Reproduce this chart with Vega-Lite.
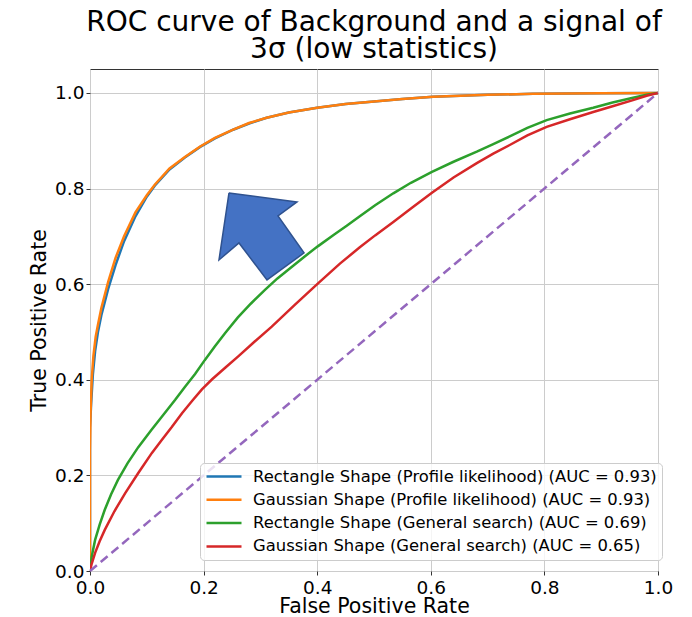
{
  "$schema": "https://vega.github.io/schema/vega-lite/v6.json",
  "width": 568,
  "height": 502,
  "autosize": {"type": "none"},
  "padding": {"left": 90, "top": 69, "right": 34, "bottom": 46},
  "background": "white",
  "title": {
    "text": ["ROC curve of Background and a signal of", "3σ (low statistics)"],
    "fontSize": 28,
    "lineHeight": 27,
    "font": "DejaVu Sans",
    "fontWeight": "normal",
    "color": "#000000",
    "anchor": "middle",
    "offset": 5
  },
  "config": {
    "font": "DejaVu Sans",
    "view": {"stroke": "#333333", "strokeWidth": 1},
    "axis": {
      "labelFont": "DejaVu Sans",
      "titleFont": "DejaVu Sans",
      "labelFontSize": 18.5,
      "titleFontSize": 20.5,
      "titleFontWeight": "normal",
      "labelColor": "#000000",
      "titleColor": "#000000",
      "gridColor": "#cccccc",
      "gridWidth": 1,
      "tickColor": "#333333",
      "tickSize": 4,
      "labelFlush": false,
      "domain": false
    },
    "legend": {
      "labelFont": "DejaVu Sans"
    }
  },
  "layer": [
    {
      "data": {
        "values": [
          {"s": "Rectangle Shape (Profile likelihood) (AUC = 0.93)", "fpr": 0, "tpr": 0},
          {"s": "Rectangle Shape (Profile likelihood) (AUC = 0.93)", "fpr": 0, "tpr": 0.3},
          {"s": "Rectangle Shape (Profile likelihood) (AUC = 0.93)", "fpr": 0.002, "tpr": 0.35},
          {"s": "Rectangle Shape (Profile likelihood) (AUC = 0.93)", "fpr": 0.005, "tpr": 0.41},
          {"s": "Rectangle Shape (Profile likelihood) (AUC = 0.93)", "fpr": 0.009, "tpr": 0.46},
          {"s": "Rectangle Shape (Profile likelihood) (AUC = 0.93)", "fpr": 0.014, "tpr": 0.5},
          {"s": "Rectangle Shape (Profile likelihood) (AUC = 0.93)", "fpr": 0.02, "tpr": 0.535},
          {"s": "Rectangle Shape (Profile likelihood) (AUC = 0.93)", "fpr": 0.032, "tpr": 0.59},
          {"s": "Rectangle Shape (Profile likelihood) (AUC = 0.93)", "fpr": 0.045, "tpr": 0.64},
          {"s": "Rectangle Shape (Profile likelihood) (AUC = 0.93)", "fpr": 0.06, "tpr": 0.69},
          {"s": "Rectangle Shape (Profile likelihood) (AUC = 0.93)", "fpr": 0.08, "tpr": 0.742},
          {"s": "Rectangle Shape (Profile likelihood) (AUC = 0.93)", "fpr": 0.1, "tpr": 0.783},
          {"s": "Rectangle Shape (Profile likelihood) (AUC = 0.93)", "fpr": 0.114, "tpr": 0.806},
          {"s": "Rectangle Shape (Profile likelihood) (AUC = 0.93)", "fpr": 0.14, "tpr": 0.84},
          {"s": "Rectangle Shape (Profile likelihood) (AUC = 0.93)", "fpr": 0.167, "tpr": 0.865},
          {"s": "Rectangle Shape (Profile likelihood) (AUC = 0.93)", "fpr": 0.194, "tpr": 0.887},
          {"s": "Rectangle Shape (Profile likelihood) (AUC = 0.93)", "fpr": 0.22, "tpr": 0.905},
          {"s": "Rectangle Shape (Profile likelihood) (AUC = 0.93)", "fpr": 0.252, "tpr": 0.923},
          {"s": "Rectangle Shape (Profile likelihood) (AUC = 0.93)", "fpr": 0.28, "tpr": 0.936},
          {"s": "Rectangle Shape (Profile likelihood) (AUC = 0.93)", "fpr": 0.311, "tpr": 0.948},
          {"s": "Rectangle Shape (Profile likelihood) (AUC = 0.93)", "fpr": 0.35, "tpr": 0.959},
          {"s": "Rectangle Shape (Profile likelihood) (AUC = 0.93)", "fpr": 0.4, "tpr": 0.969},
          {"s": "Rectangle Shape (Profile likelihood) (AUC = 0.93)", "fpr": 0.45, "tpr": 0.977},
          {"s": "Rectangle Shape (Profile likelihood) (AUC = 0.93)", "fpr": 0.5, "tpr": 0.982},
          {"s": "Rectangle Shape (Profile likelihood) (AUC = 0.93)", "fpr": 0.55, "tpr": 0.987},
          {"s": "Rectangle Shape (Profile likelihood) (AUC = 0.93)", "fpr": 0.604, "tpr": 0.992},
          {"s": "Rectangle Shape (Profile likelihood) (AUC = 0.93)", "fpr": 0.7, "tpr": 0.996},
          {"s": "Rectangle Shape (Profile likelihood) (AUC = 0.93)", "fpr": 0.78, "tpr": 0.998},
          {"s": "Rectangle Shape (Profile likelihood) (AUC = 0.93)", "fpr": 0.9, "tpr": 0.9995},
          {"s": "Rectangle Shape (Profile likelihood) (AUC = 0.93)", "fpr": 1, "tpr": 1},

          {"s": "Gaussian Shape (Profile likelihood) (AUC = 0.93)", "fpr": 0, "tpr": 0},
          {"s": "Gaussian Shape (Profile likelihood) (AUC = 0.93)", "fpr": 0, "tpr": 0.25},
          {"s": "Gaussian Shape (Profile likelihood) (AUC = 0.93)", "fpr": 0.001, "tpr": 0.33},
          {"s": "Gaussian Shape (Profile likelihood) (AUC = 0.93)", "fpr": 0.003, "tpr": 0.4},
          {"s": "Gaussian Shape (Profile likelihood) (AUC = 0.93)", "fpr": 0.006, "tpr": 0.45},
          {"s": "Gaussian Shape (Profile likelihood) (AUC = 0.93)", "fpr": 0.01, "tpr": 0.49},
          {"s": "Gaussian Shape (Profile likelihood) (AUC = 0.93)", "fpr": 0.014, "tpr": 0.515},
          {"s": "Gaussian Shape (Profile likelihood) (AUC = 0.93)", "fpr": 0.02, "tpr": 0.55},
          {"s": "Gaussian Shape (Profile likelihood) (AUC = 0.93)", "fpr": 0.032, "tpr": 0.605},
          {"s": "Gaussian Shape (Profile likelihood) (AUC = 0.93)", "fpr": 0.045, "tpr": 0.655},
          {"s": "Gaussian Shape (Profile likelihood) (AUC = 0.93)", "fpr": 0.06, "tpr": 0.7},
          {"s": "Gaussian Shape (Profile likelihood) (AUC = 0.93)", "fpr": 0.08, "tpr": 0.75},
          {"s": "Gaussian Shape (Profile likelihood) (AUC = 0.93)", "fpr": 0.1, "tpr": 0.786},
          {"s": "Gaussian Shape (Profile likelihood) (AUC = 0.93)", "fpr": 0.114, "tpr": 0.808},
          {"s": "Gaussian Shape (Profile likelihood) (AUC = 0.93)", "fpr": 0.14, "tpr": 0.842},
          {"s": "Gaussian Shape (Profile likelihood) (AUC = 0.93)", "fpr": 0.167, "tpr": 0.866},
          {"s": "Gaussian Shape (Profile likelihood) (AUC = 0.93)", "fpr": 0.194, "tpr": 0.888},
          {"s": "Gaussian Shape (Profile likelihood) (AUC = 0.93)", "fpr": 0.22, "tpr": 0.906},
          {"s": "Gaussian Shape (Profile likelihood) (AUC = 0.93)", "fpr": 0.252, "tpr": 0.923},
          {"s": "Gaussian Shape (Profile likelihood) (AUC = 0.93)", "fpr": 0.28, "tpr": 0.937},
          {"s": "Gaussian Shape (Profile likelihood) (AUC = 0.93)", "fpr": 0.311, "tpr": 0.948},
          {"s": "Gaussian Shape (Profile likelihood) (AUC = 0.93)", "fpr": 0.35, "tpr": 0.959},
          {"s": "Gaussian Shape (Profile likelihood) (AUC = 0.93)", "fpr": 0.4, "tpr": 0.969},
          {"s": "Gaussian Shape (Profile likelihood) (AUC = 0.93)", "fpr": 0.45, "tpr": 0.977},
          {"s": "Gaussian Shape (Profile likelihood) (AUC = 0.93)", "fpr": 0.5, "tpr": 0.982},
          {"s": "Gaussian Shape (Profile likelihood) (AUC = 0.93)", "fpr": 0.55, "tpr": 0.987},
          {"s": "Gaussian Shape (Profile likelihood) (AUC = 0.93)", "fpr": 0.604, "tpr": 0.992},
          {"s": "Gaussian Shape (Profile likelihood) (AUC = 0.93)", "fpr": 0.7, "tpr": 0.996},
          {"s": "Gaussian Shape (Profile likelihood) (AUC = 0.93)", "fpr": 0.78, "tpr": 0.998},
          {"s": "Gaussian Shape (Profile likelihood) (AUC = 0.93)", "fpr": 0.9, "tpr": 0.9995},
          {"s": "Gaussian Shape (Profile likelihood) (AUC = 0.93)", "fpr": 1, "tpr": 1},

          {"s": "Rectangle Shape (General search) (AUC = 0.69)", "fpr": 0, "tpr": 0},
          {"s": "Rectangle Shape (General search) (AUC = 0.69)", "fpr": 0.003, "tpr": 0.03},
          {"s": "Rectangle Shape (General search) (AUC = 0.69)", "fpr": 0.009, "tpr": 0.065},
          {"s": "Rectangle Shape (General search) (AUC = 0.69)", "fpr": 0.017, "tpr": 0.097},
          {"s": "Rectangle Shape (General search) (AUC = 0.69)", "fpr": 0.026, "tpr": 0.128},
          {"s": "Rectangle Shape (General search) (AUC = 0.69)", "fpr": 0.037, "tpr": 0.16},
          {"s": "Rectangle Shape (General search) (AUC = 0.69)", "fpr": 0.049, "tpr": 0.19},
          {"s": "Rectangle Shape (General search) (AUC = 0.69)", "fpr": 0.066, "tpr": 0.225},
          {"s": "Rectangle Shape (General search) (AUC = 0.69)", "fpr": 0.085, "tpr": 0.259},
          {"s": "Rectangle Shape (General search) (AUC = 0.69)", "fpr": 0.108, "tpr": 0.295},
          {"s": "Rectangle Shape (General search) (AUC = 0.69)", "fpr": 0.132, "tpr": 0.331},
          {"s": "Rectangle Shape (General search) (AUC = 0.69)", "fpr": 0.15, "tpr": 0.358},
          {"s": "Rectangle Shape (General search) (AUC = 0.69)", "fpr": 0.167, "tpr": 0.385},
          {"s": "Rectangle Shape (General search) (AUC = 0.69)", "fpr": 0.185, "tpr": 0.412},
          {"s": "Rectangle Shape (General search) (AUC = 0.69)", "fpr": 0.202, "tpr": 0.441},
          {"s": "Rectangle Shape (General search) (AUC = 0.69)", "fpr": 0.22, "tpr": 0.47},
          {"s": "Rectangle Shape (General search) (AUC = 0.69)", "fpr": 0.238, "tpr": 0.498},
          {"s": "Rectangle Shape (General search) (AUC = 0.69)", "fpr": 0.26, "tpr": 0.53},
          {"s": "Rectangle Shape (General search) (AUC = 0.69)", "fpr": 0.283, "tpr": 0.559},
          {"s": "Rectangle Shape (General search) (AUC = 0.69)", "fpr": 0.308, "tpr": 0.588},
          {"s": "Rectangle Shape (General search) (AUC = 0.69)", "fpr": 0.33, "tpr": 0.612},
          {"s": "Rectangle Shape (General search) (AUC = 0.69)", "fpr": 0.355, "tpr": 0.636},
          {"s": "Rectangle Shape (General search) (AUC = 0.69)", "fpr": 0.378, "tpr": 0.658},
          {"s": "Rectangle Shape (General search) (AUC = 0.69)", "fpr": 0.401, "tpr": 0.679},
          {"s": "Rectangle Shape (General search) (AUC = 0.69)", "fpr": 0.43, "tpr": 0.704},
          {"s": "Rectangle Shape (General search) (AUC = 0.69)", "fpr": 0.452, "tpr": 0.722},
          {"s": "Rectangle Shape (General search) (AUC = 0.69)", "fpr": 0.475, "tpr": 0.742},
          {"s": "Rectangle Shape (General search) (AUC = 0.69)", "fpr": 0.502, "tpr": 0.765},
          {"s": "Rectangle Shape (General search) (AUC = 0.69)", "fpr": 0.534, "tpr": 0.79},
          {"s": "Rectangle Shape (General search) (AUC = 0.69)", "fpr": 0.565, "tpr": 0.812},
          {"s": "Rectangle Shape (General search) (AUC = 0.69)", "fpr": 0.602, "tpr": 0.835},
          {"s": "Rectangle Shape (General search) (AUC = 0.69)", "fpr": 0.64, "tpr": 0.856},
          {"s": "Rectangle Shape (General search) (AUC = 0.69)", "fpr": 0.681, "tpr": 0.877},
          {"s": "Rectangle Shape (General search) (AUC = 0.69)", "fpr": 0.71, "tpr": 0.893},
          {"s": "Rectangle Shape (General search) (AUC = 0.69)", "fpr": 0.739, "tpr": 0.909},
          {"s": "Rectangle Shape (General search) (AUC = 0.69)", "fpr": 0.77, "tpr": 0.927},
          {"s": "Rectangle Shape (General search) (AUC = 0.69)", "fpr": 0.804, "tpr": 0.943},
          {"s": "Rectangle Shape (General search) (AUC = 0.69)", "fpr": 0.845, "tpr": 0.957},
          {"s": "Rectangle Shape (General search) (AUC = 0.69)", "fpr": 0.886, "tpr": 0.969},
          {"s": "Rectangle Shape (General search) (AUC = 0.69)", "fpr": 0.92, "tpr": 0.98},
          {"s": "Rectangle Shape (General search) (AUC = 0.69)", "fpr": 0.956, "tpr": 0.99},
          {"s": "Rectangle Shape (General search) (AUC = 0.69)", "fpr": 0.98, "tpr": 0.996},
          {"s": "Rectangle Shape (General search) (AUC = 0.69)", "fpr": 1, "tpr": 1},

          {"s": "Gaussian Shape (General search) (AUC = 0.65)", "fpr": 0, "tpr": 0},
          {"s": "Gaussian Shape (General search) (AUC = 0.65)", "fpr": 0.003, "tpr": 0.015},
          {"s": "Gaussian Shape (General search) (AUC = 0.65)", "fpr": 0.009, "tpr": 0.038},
          {"s": "Gaussian Shape (General search) (AUC = 0.65)", "fpr": 0.017, "tpr": 0.062},
          {"s": "Gaussian Shape (General search) (AUC = 0.65)", "fpr": 0.026, "tpr": 0.086},
          {"s": "Gaussian Shape (General search) (AUC = 0.65)", "fpr": 0.043, "tpr": 0.125},
          {"s": "Gaussian Shape (General search) (AUC = 0.65)", "fpr": 0.062, "tpr": 0.163},
          {"s": "Gaussian Shape (General search) (AUC = 0.65)", "fpr": 0.085, "tpr": 0.205},
          {"s": "Gaussian Shape (General search) (AUC = 0.65)", "fpr": 0.109, "tpr": 0.247},
          {"s": "Gaussian Shape (General search) (AUC = 0.65)", "fpr": 0.127, "tpr": 0.275},
          {"s": "Gaussian Shape (General search) (AUC = 0.65)", "fpr": 0.144, "tpr": 0.301},
          {"s": "Gaussian Shape (General search) (AUC = 0.65)", "fpr": 0.162, "tpr": 0.33},
          {"s": "Gaussian Shape (General search) (AUC = 0.65)", "fpr": 0.18, "tpr": 0.356},
          {"s": "Gaussian Shape (General search) (AUC = 0.65)", "fpr": 0.197, "tpr": 0.38},
          {"s": "Gaussian Shape (General search) (AUC = 0.65)", "fpr": 0.215, "tpr": 0.401},
          {"s": "Gaussian Shape (General search) (AUC = 0.65)", "fpr": 0.238, "tpr": 0.425},
          {"s": "Gaussian Shape (General search) (AUC = 0.65)", "fpr": 0.261, "tpr": 0.449},
          {"s": "Gaussian Shape (General search) (AUC = 0.65)", "fpr": 0.29, "tpr": 0.48},
          {"s": "Gaussian Shape (General search) (AUC = 0.65)", "fpr": 0.32, "tpr": 0.511},
          {"s": "Gaussian Shape (General search) (AUC = 0.65)", "fpr": 0.36, "tpr": 0.556},
          {"s": "Gaussian Shape (General search) (AUC = 0.65)", "fpr": 0.401, "tpr": 0.601},
          {"s": "Gaussian Shape (General search) (AUC = 0.65)", "fpr": 0.44, "tpr": 0.643},
          {"s": "Gaussian Shape (General search) (AUC = 0.65)", "fpr": 0.475, "tpr": 0.677},
          {"s": "Gaussian Shape (General search) (AUC = 0.65)", "fpr": 0.502, "tpr": 0.702},
          {"s": "Gaussian Shape (General search) (AUC = 0.65)", "fpr": 0.534, "tpr": 0.73},
          {"s": "Gaussian Shape (General search) (AUC = 0.65)", "fpr": 0.568, "tpr": 0.761},
          {"s": "Gaussian Shape (General search) (AUC = 0.65)", "fpr": 0.602, "tpr": 0.791},
          {"s": "Gaussian Shape (General search) (AUC = 0.65)", "fpr": 0.64, "tpr": 0.823},
          {"s": "Gaussian Shape (General search) (AUC = 0.65)", "fpr": 0.681, "tpr": 0.853},
          {"s": "Gaussian Shape (General search) (AUC = 0.65)", "fpr": 0.71, "tpr": 0.873},
          {"s": "Gaussian Shape (General search) (AUC = 0.65)", "fpr": 0.739, "tpr": 0.891},
          {"s": "Gaussian Shape (General search) (AUC = 0.65)", "fpr": 0.77, "tpr": 0.911},
          {"s": "Gaussian Shape (General search) (AUC = 0.65)", "fpr": 0.804, "tpr": 0.929},
          {"s": "Gaussian Shape (General search) (AUC = 0.65)", "fpr": 0.845, "tpr": 0.945},
          {"s": "Gaussian Shape (General search) (AUC = 0.65)", "fpr": 0.886, "tpr": 0.96},
          {"s": "Gaussian Shape (General search) (AUC = 0.65)", "fpr": 0.92, "tpr": 0.972},
          {"s": "Gaussian Shape (General search) (AUC = 0.65)", "fpr": 0.956, "tpr": 0.985},
          {"s": "Gaussian Shape (General search) (AUC = 0.65)", "fpr": 0.98, "tpr": 0.994},
          {"s": "Gaussian Shape (General search) (AUC = 0.65)", "fpr": 1, "tpr": 1}
        ]
      },
      "mark": {"type": "line", "strokeWidth": 2.5, "clip": true},
      "encoding": {
        "x": {
          "field": "fpr", "type": "quantitative",
          "scale": {"domain": [0, 1], "nice": false, "zero": false},
          "axis": {"title": "False Positive Rate", "values": [0, 0.2, 0.4, 0.6, 0.8, 1.0], "format": ".1f", "labelPadding": 3, "titlePadding": 0}
        },
        "y": {
          "field": "tpr", "type": "quantitative",
          "scale": {"domain": [0, 1.05], "nice": false, "zero": false},
          "axis": {"title": "True Positive Rate", "values": [0, 0.2, 0.4, 0.6, 0.8, 1.0], "format": ".1f", "labelPadding": 2, "titlePadding": 5}
        },
        "color": {
          "field": "s", "type": "nominal",
          "scale": {
            "domain": [
              "Rectangle Shape (Profile likelihood) (AUC = 0.93)",
              "Gaussian Shape (Profile likelihood) (AUC = 0.93)",
              "Rectangle Shape (General search) (AUC = 0.69)",
              "Gaussian Shape (General search) (AUC = 0.65)"
            ],
            "range": ["#1f77b4", "#ff7f0e", "#2ca02c", "#d62728"]
          },
          "legend": {
            "title": null,
            "orient": "none",
            "legendX": 110,
            "legendY": 394,
            "symbolType": "M-1,0L4,0",
            "symbolSize": 196,
            "symbolStrokeWidth": 2.5,
            "labelFontSize": 16.4,
            "labelLimit": 600,
            "labelOffset": 31,
            "labelColor": "#000000",
            "rowPadding": 6.3,
            "padding": 5,
            "strokeColor": "#cccccc",
            "fillColor": "rgba(255,255,255,0.8)",
            "cornerRadius": 4
          }
        },
        "order": {"field": "fpr", "type": "quantitative"}
      }
    },
    {
      "data": {"values": [{"fpr": 0, "tpr": 0}, {"fpr": 1, "tpr": 1}]},
      "mark": {"type": "line", "color": "#9467bd", "strokeWidth": 2.5, "strokeDash": [9, 5]},
      "encoding": {
        "x": {"field": "fpr", "type": "quantitative"},
        "y": {"field": "tpr", "type": "quantitative"}
      }
    },
    {
      "data": {
        "values": [
          {"k": 0, "ax": 0.2447, "ay": 0.7908},
          {"k": 1, "ax": 0.3644, "ay": 0.772},
          {"k": 2, "ax": 0.331, "ay": 0.7427},
          {"k": 3, "ax": 0.3768, "ay": 0.6653},
          {"k": 4, "ax": 0.3116, "ay": 0.6088},
          {"k": 5, "ax": 0.2623, "ay": 0.6862},
          {"k": 6, "ax": 0.2271, "ay": 0.6506},
          {"k": 7, "ax": 0.2447, "ay": 0.7908}
        ]
      },
      "mark": {"type": "line", "fill": "#4472c4", "stroke": "#2f528f", "strokeWidth": 1.5, "strokeJoin": "miter"},
      "encoding": {
        "x": {"field": "ax", "type": "quantitative"},
        "y": {"field": "ay", "type": "quantitative"},
        "order": {"field": "k", "type": "quantitative"}
      }
    }
  ]
}
